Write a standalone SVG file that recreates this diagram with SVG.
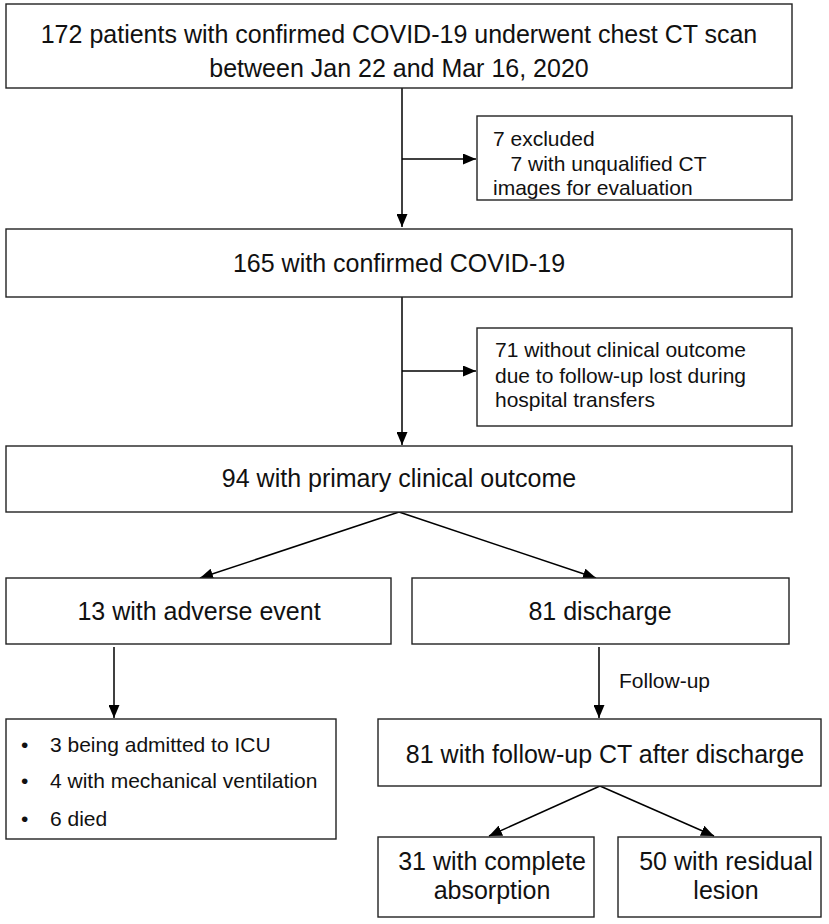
<svg xmlns="http://www.w3.org/2000/svg" width="829" height="924" viewBox="0 0 829 924">
<style>
.box{fill:#fff;stroke:#222;stroke-width:1.4}
.t{font-family:"Liberation Sans",Arial,sans-serif;fill:#111}
.big{font-size:25px;text-anchor:middle}
.sm{font-size:21px}
.ln{stroke:#000;stroke-width:1.5;fill:none}
</style>
<defs>
<marker id="ah" markerWidth="13" markerHeight="11" refX="13" refY="5.5" orient="auto" markerUnits="userSpaceOnUse"><path d="M0,0 L13,5.5 L0,11 z" fill="#000"/></marker>
</defs>
<rect width="829" height="924" fill="#fff"/>
<g id="connectors">
<line class="ln" x1="402" y1="88" x2="402" y2="227" marker-end="url(#ah)"/>
<line class="ln" x1="402" y1="159" x2="476" y2="159" marker-end="url(#ah)"/>
<line class="ln" x1="402" y1="297" x2="402" y2="445" marker-end="url(#ah)"/>
<line class="ln" x1="402" y1="371" x2="476" y2="371" marker-end="url(#ah)"/>
<line class="ln" x1="399" y1="512" x2="200" y2="578" marker-end="url(#ah)"/>
<line class="ln" x1="399" y1="512" x2="596" y2="578" marker-end="url(#ah)"/>
<line class="ln" x1="114" y1="647" x2="114" y2="718" marker-end="url(#ah)"/>
<line class="ln" x1="599" y1="647" x2="599" y2="718" marker-end="url(#ah)"/>
<line class="ln" x1="600" y1="786" x2="489" y2="836" marker-end="url(#ah)"/>
<line class="ln" x1="600" y1="786" x2="714" y2="836" marker-end="url(#ah)"/>
<text class="t sm" x="619" y="688">Follow-up</text>
</g>
<g id="n1"><rect class="box" x="6" y="4" width="786" height="84"/>
<text class="t big" x="399" y="43">172 patients with confirmed COVID-19 underwent chest CT scan</text>
<text class="t big" x="399" y="77">between Jan 22 and Mar 16, 2020</text></g>
<g id="n2"><rect class="box" x="477" y="116" width="315" height="84"/>
<text class="t sm" x="493" y="146">7 excluded</text>
<text class="t sm" x="493" y="171" xml:space="preserve">   7 with unqualified CT</text>
<text class="t sm" x="493" y="195">images for evaluation</text></g>
<g id="n3"><rect class="box" x="6" y="229" width="786" height="68"/>
<text class="t big" x="399" y="272">165 with confirmed COVID-19</text></g>
<g id="n4"><rect class="box" x="477" y="328" width="315" height="98"/>
<text class="t sm" x="495" y="357">71 without clinical outcome</text>
<text class="t sm" x="495" y="383">due to follow-up lost during</text>
<text class="t sm" x="495" y="407">hospital transfers</text></g>
<g id="n5"><rect class="box" x="6" y="446" width="786" height="66"/>
<text class="t big" x="399" y="487">94 with primary clinical outcome</text></g>
<g id="n6"><rect class="box" x="6" y="578" width="385" height="66"/>
<text class="t big" x="199" y="620">13 with adverse event</text></g>
<g id="n7"><rect class="box" x="412" y="578" width="377" height="66"/>
<text class="t big" x="600" y="620">81 discharge</text></g>
<g id="n8"><rect class="box" x="6" y="719" width="330" height="120"/>
<text class="t sm" x="21" y="752">•</text><text class="t sm" x="50" y="752">3 being admitted to ICU</text>
<text class="t sm" x="21" y="788">•</text><text class="t sm" x="50" y="788">4 with mechanical ventilation</text>
<text class="t sm" x="21" y="826">•</text><text class="t sm" x="50" y="826">6 died</text></g>
<g id="n9"><rect class="box" x="378" y="719" width="443" height="67"/>
<text class="t big" x="605" y="763">81 with follow-up CT after discharge</text></g>
<g id="n10"><rect class="box" x="378" y="837" width="216" height="80"/>
<text class="t big" x="492" y="870">31 with complete</text>
<text class="t big" x="492" y="899">absorption</text></g>
<g id="n11"><rect class="box" x="618" y="837" width="203" height="80"/>
<text class="t big" x="726" y="870">50 with residual</text>
<text class="t big" x="726" y="899">lesion</text></g>
</svg>
